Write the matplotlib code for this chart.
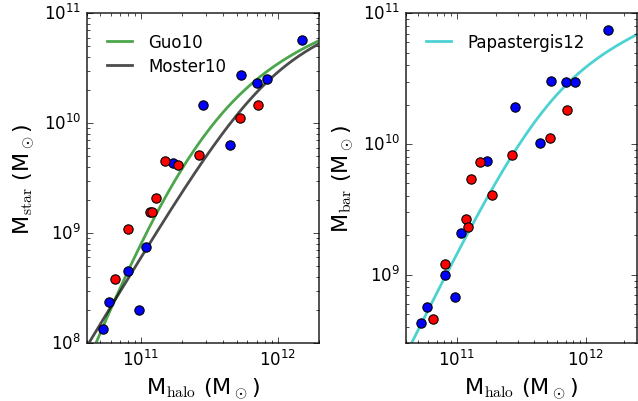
import numpy as np
import matplotlib
matplotlib.use("Agg")
import matplotlib.pyplot as plt

plt.style.use("classic")

# halo masses (Msun) of the two samples
mh_red = [6.5e10, 8.07e10, 1.17e11, 1.21e11, 1.29e11, 1.5e11, 1.87e11, 2.67e11, 5.3e11, 7.2e11]
mh_blue = [5.27e10, 5.83e10, 8.07e10, 9.7e10, 1.08e11, 1.7e11, 2.82e11, 4.45e11, 5.38e11,
           7.05e11, 8.27e11, 1.49e12]

mstar_red = [3.8e8, 1.1e9, 1.57e9, 1.57e9, 2.09e9, 4.54e9, 4.2e9, 5.1e9, 1.11e10, 1.46e10]
mstar_blue = [1.34e8, 2.37e8, 4.48e8, 2.0e8, 7.46e8, 4.3e9, 1.47e10, 6.3e9, 2.75e10,
              2.34e10, 2.51e10, 5.69e10]

mbar_red = [4.6e8, 1.21e9, 2.67e9, 2.32e9, 5.39e9, 7.33e9, 4.1e9, 8.28e9, 1.12e10, 1.83e10]
mbar_blue = [4.3e8, 5.66e8, 9.96e8, 6.71e8, 2.07e9, 7.38e9, 1.93e10, 1.02e10, 3.05e10,
             3.0e10, 3.0e10, 7.45e10]


def guo10(m):
    c, m0, a, b, g = 0.129, 10**11.4, 0.926, 0.261, 2.440
    return c * m * ((m / m0)**-a + (m / m0)**b)**-g


def moster10(m):
    n, m1, b, g = 0.02817, 10**11.899, 1.068, 0.611
    return 2 * n * m / ((m / m1)**-b + (m / m1)**g)


def papastergis12(m):
    n2, m1, b, g = 10**-1.11, 10**11.7, 1.0, 0.6
    return n2 * m / ((m / m1)**-b + (m / m1)**g)


fig = plt.figure(figsize=(6.38, 4.02), dpi=100, facecolor="white")
ax1 = fig.add_axes([0.1356, 0.1443, 0.3644, 0.8201])
ax2 = fig.add_axes([0.6359, 0.1443, 0.3621, 0.8201])

mm = np.logspace(10.5, 12.5, 300)
ax1.plot(mm, guo10(mm), color="g", lw=2, alpha=0.7, label="Guo10")
ax1.plot(mm, moster10(mm), color="k", lw=2, alpha=0.7, label="Moster10")
ax2.plot(mm, papastergis12(mm), color="c", lw=2, alpha=0.7, label="Papastergis12")

kw = dict(s=45, edgecolor="k", linewidth=0.8, zorder=3)
ax1.scatter(mh_blue, mstar_blue, c="b", **kw)
ax1.scatter(mh_red, mstar_red, c="r", **kw)
ax2.scatter(mh_blue, mbar_blue, c="b", **kw)
ax2.scatter(mh_red, mbar_red, c="r", **kw)

for ax in (ax1, ax2):
    ax.set_xscale("log")
    ax.set_yscale("log")
    ax.tick_params(labelsize=12)
    for sp in ax.spines.values():
        sp.set_color("0.2")
        sp.set_linewidth(1.2)
    ax.set_xlabel(r"M$_{\rm halo}$ (M$_\odot$)", fontsize=16)
    ax.legend(loc="upper left", frameon=False, fontsize=12, handlelength=1.5,
              handletextpad=1.0, labelspacing=0.35, borderaxespad=0.8,
              numpoints=1)

ax1.set_xlim(4e10, 2e12)
ax1.set_ylim(1e8, 1e11)
ax1.set_ylabel(r"M$_{\rm star}$ (M$_\odot$)", fontsize=16)
ax2.set_xlim(4e10, 2.5e12)
ax2.set_ylim(3e8, 1e11)
ax2.set_ylabel(r"M$_{\rm bar}$ (M$_\odot$)", fontsize=16)

fig.savefig("out.png", dpi=100, facecolor="white")
